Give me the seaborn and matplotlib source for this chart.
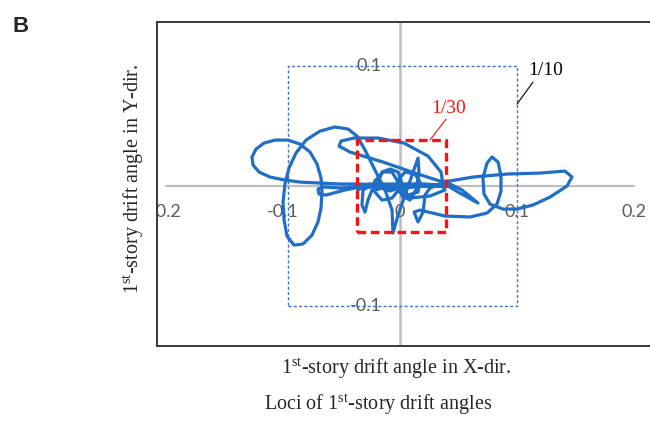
import numpy as np
import pandas as pd
import matplotlib
matplotlib.use("Agg")
import matplotlib.pyplot as plt
import seaborn as sns

# ---------------- data (drift angles, rad) ----------------
drift_x = [0, -0.0171, -0.0342, -0.0513, -0.0684, -0.0855, -0.0983, -0.1111, -0.1205, -0.1256,
           -0.1265, -0.1231, -0.1162, -0.1068, -0.0957, -0.0855, -0.0769, -0.0709, -0.0675, -0.0667,
           -0.0675, -0.0701, -0.0752, -0.0829, -0.0906, -0.0966, -0.0991, -0.1000, -0.0983, -0.0949,
           -0.0889, -0.0803, -0.0684, -0.0556, -0.0444, -0.0368,
           -0.0299, -0.0214, -0.0128, -0.0068, -0.0060, -0.0017, 0.0043, 0.0103, 0.0154, 0.0162,
           0.0137, 0.0085, 0.0017, -0.0017, -0.0068, -0.0145, -0.0205, -0.0214, -0.0154, -0.0068,
           0, 0.0171, 0.0368, 0.0350, 0.0239, 0.0034, -0.0188, -0.0393, -0.0504, -0.0521,
           -0.0427, -0.0145, 0.0128, 0.0368, 0.0624, 0.0915, 0.1197, 0.1410, 0.1470, 0.1427,
           0.1282, 0.1137, 0.1000, 0.0880, 0.0769, 0.0718, 0.0709, 0.0744, 0.0786, 0.0838,
           0.0863, 0.0863, 0.0829, 0.0744, 0.0598, 0.0385, 0.0171, 0.0120, 0.0154, 0.0197,
           0.0214, 0.0256, 0.0368, 0.0496, 0.0667, 0.0530, 0.0427, 0.0256, 0, -0.0256,
           -0.0316, -0.0325, -0.0299, -0.0274, -0.0239, -0.0085, 0.0171, 0.0342, 0, -0.0342,
           -0.0513, -0.0650, -0.0701, -0.0692, -0.0632, -0.0470, -0.0299, -0.0043, 0.0256, 0.0359,
           0.0385, 0.0256, 0.0085, 0, -0.0017, 0.0043, 0.0128, 0.0171, 0.0154, 0.0068,
           0.0009, 0.0009, -0.0017, -0.0085, -0.0154, -0.0179, -0.0154, -0.0085, -0.0017, -0.0171,
           -0.0299, -0.0359, -0.0376, -0.0256, 0, 0.0214, 0.0342]
drift_y = [0, 0.0008, 0.0017, 0.0017, 0.0025, 0.0033, 0.0050, 0.0075, 0.0117, 0.0175,
           0.0242, 0.0308, 0.0358, 0.0383, 0.0383, 0.0350, 0.0283, 0.0183, 0.0067, -0.0050,
           -0.0183, -0.0300, -0.0408, -0.0483, -0.0492, -0.0417, -0.0283, -0.0133, 0.0017, 0.0150,
           0.0275, 0.0383, 0.0458, 0.0492, 0.0475, 0.0417,
           0.0300, 0.0133, -0.0033, -0.0200, -0.0392, -0.0242, -0.0075, 0.0092, 0.0233, 0.0117,
           -0.0033, -0.0117, -0.0083, 0.0033, 0.0117, 0.0117, 0.0050, -0.0050, -0.0117, -0.0100,
           -0.0017, 0, 0.0017, 0.0117, 0.0250, 0.0358, 0.0400, 0.0400, 0.0375, 0.0333,
           0.0283, 0.0200, 0.0108, 0.0033, 0.0075, 0.0100, 0.0108, 0.0125, 0.0075, 0,
           -0.0092, -0.0158, -0.0192, -0.0192, -0.0150, -0.0067, 0.0067, 0.0192, 0.0242, 0.0200,
           0.0083, -0.0042, -0.0150, -0.0225, -0.0258, -0.0250, -0.0200, -0.0217, -0.0300, -0.0217,
           -0.0075, -0.0017, 0.0025, -0.0050, -0.0142, -0.0033, 0.0017, 0, 0, 0,
           -0.0033, -0.0158, -0.0217, -0.0117, -0.0033, -0.0008, 0.0008, 0, -0.0008, -0.0008,
           -0.0017, -0.0008, -0.0025, -0.0067, -0.0075, -0.0033, 0, 0.0008, 0.0008, 0,
           -0.0033, -0.0083, -0.0100, -0.0050, 0.0050, 0.0117, 0.0100, 0.0033, -0.0050, -0.0075,
           -0.0017, 0.0050, 0.0117, 0.0142, 0.0117, 0.0050, -0.0017, -0.0042, -0.0017, 0.0017,
           0, -0.0033, 0, 0.0017, 0.0017, 0.0017, 0.0008]

tick_values = [-0.2, -0.1, 0, 0.1, 0.2]
x_tick_labels = ["-0.2", "-0.1", "0", "0.1", "0.2"]
y_tick_values = [0.1, 0, -0.1]
y_tick_labels = ["0.1", "0", "-0.1"]

box_1_10_x = [-0.096, 0.1]
box_1_10_y = [-0.1, 0.1]
box_1_30_x = [-0.037, 0.039]
box_1_30_y = [-0.038, 0.038]

# ---------------- style ----------------
sns.set_style("white")
plt.rcParams["font.family"] = ["Liberation Serif", "DejaVu Serif"]
plt.rcParams["mathtext.fontset"] = "custom"
plt.rcParams["mathtext.rm"] = "Liberation Serif"
plt.rcParams["mathtext.it"] = "Liberation Serif:italic"

fig = plt.figure(figsize=(6.5, 4.3), dpi=100)
W, H = 650, 430
ax = fig.add_axes([157 / W, 1 - 346 / H, (700 - 157) / W, (346 - 22) / H])
ax.set_xlim(-0.2077, 0.2564)
ax.set_ylim(-0.1333, 0.1367)
ax.set_xticks([])
ax.set_yticks([])
for s in ["top", "bottom", "left", "right"]:
    ax.spines[s].set_color("#3a3a3a")
    ax.spines[s].set_linewidth(1.4)

# axis lines through origin
ax.plot([tick_values[0], tick_values[-1]], [0, 0], color="#bdbdbd", lw=1.6, zorder=1)
ax.axvline(0, color="#bdbdbd", lw=1.8, zorder=1)

# tick labels (Excel-like)
tick_font = dict(family="Lato", size=13, color="#5a5a5a")
for v, lab in zip(tick_values, x_tick_labels):
    ax.text(v, -0.0217, lab, ha="center", va="center", clip_on=True, zorder=2, **tick_font)
for v, lab in zip(y_tick_values, y_tick_labels):
    ax.text(-0.0154, v, lab, ha="right", va="center", zorder=2, **tick_font)

# 1/10 box
bx = [box_1_10_x[0], box_1_10_x[1], box_1_10_x[1], box_1_10_x[0], box_1_10_x[0]]
by = [box_1_10_y[0], box_1_10_y[0], box_1_10_y[1], box_1_10_y[1], box_1_10_y[0]]
ax.plot(bx, by, color="#4472c4", lw=1.0, dashes=(2.2, 1.6), zorder=2)

# drift trajectory
traj = pd.DataFrame({"x": drift_x, "y": drift_y})
sns.lineplot(data=traj, x="x", y="y", sort=False, estimator=None, ax=ax,
             color="#1f6ec8", lw=2.3, solid_joinstyle="round", solid_capstyle="round", zorder=3)
ax.set_xlabel("")
ax.set_ylabel("")

# 1/30 box
rx = [box_1_30_x[0], box_1_30_x[1], box_1_30_x[1], box_1_30_x[0], box_1_30_x[0]]
ry = [box_1_30_y[0], box_1_30_y[0], box_1_30_y[1], box_1_30_y[1], box_1_30_y[0]]
ax.plot(rx, ry, color="#ff1010", lw=2.4, dashes=(2.6, 1.4), zorder=4)

# annotations
ax.text(0.1248, 0.0967, "1/10", ha="center", va="center", fontsize=14, color="black")
ax.plot([0.1137, 0.1], [0.0867, 0.0683], color="black", lw=0.8)
ax.text(0.0419, 0.065, "1/30", ha="center", va="center", fontsize=14, color="#ff1010")
ax.plot([0.0393, 0.0256], [0.0558, 0.0383], color="#ff1010", lw=0.8)

# labels
fig.text(396 / W, 1 - 369 / H, r"1$^{\mathrm{st}}$-story drift angle in X-dir.",
         ha="center", va="center", fontsize=14.5)
fig.text(134 / W, 1 - 179 / H, r"1$^{\mathrm{st}}$-story drift angle in Y-dir.",
         ha="center", va="center", fontsize=14.5, rotation=90)
fig.text(378 / W, 1 - 405 / H, r"Loci of 1$^{\mathrm{st}}$-story drift angles",
         ha="center", va="center", fontsize=14.5)
fig.text(13 / W, 1 - 32 / H, "B", ha="left", va="baseline", fontsize=16,
         fontweight="bold", family="Liberation Sans")

fig.savefig("out.png", dpi=100)
